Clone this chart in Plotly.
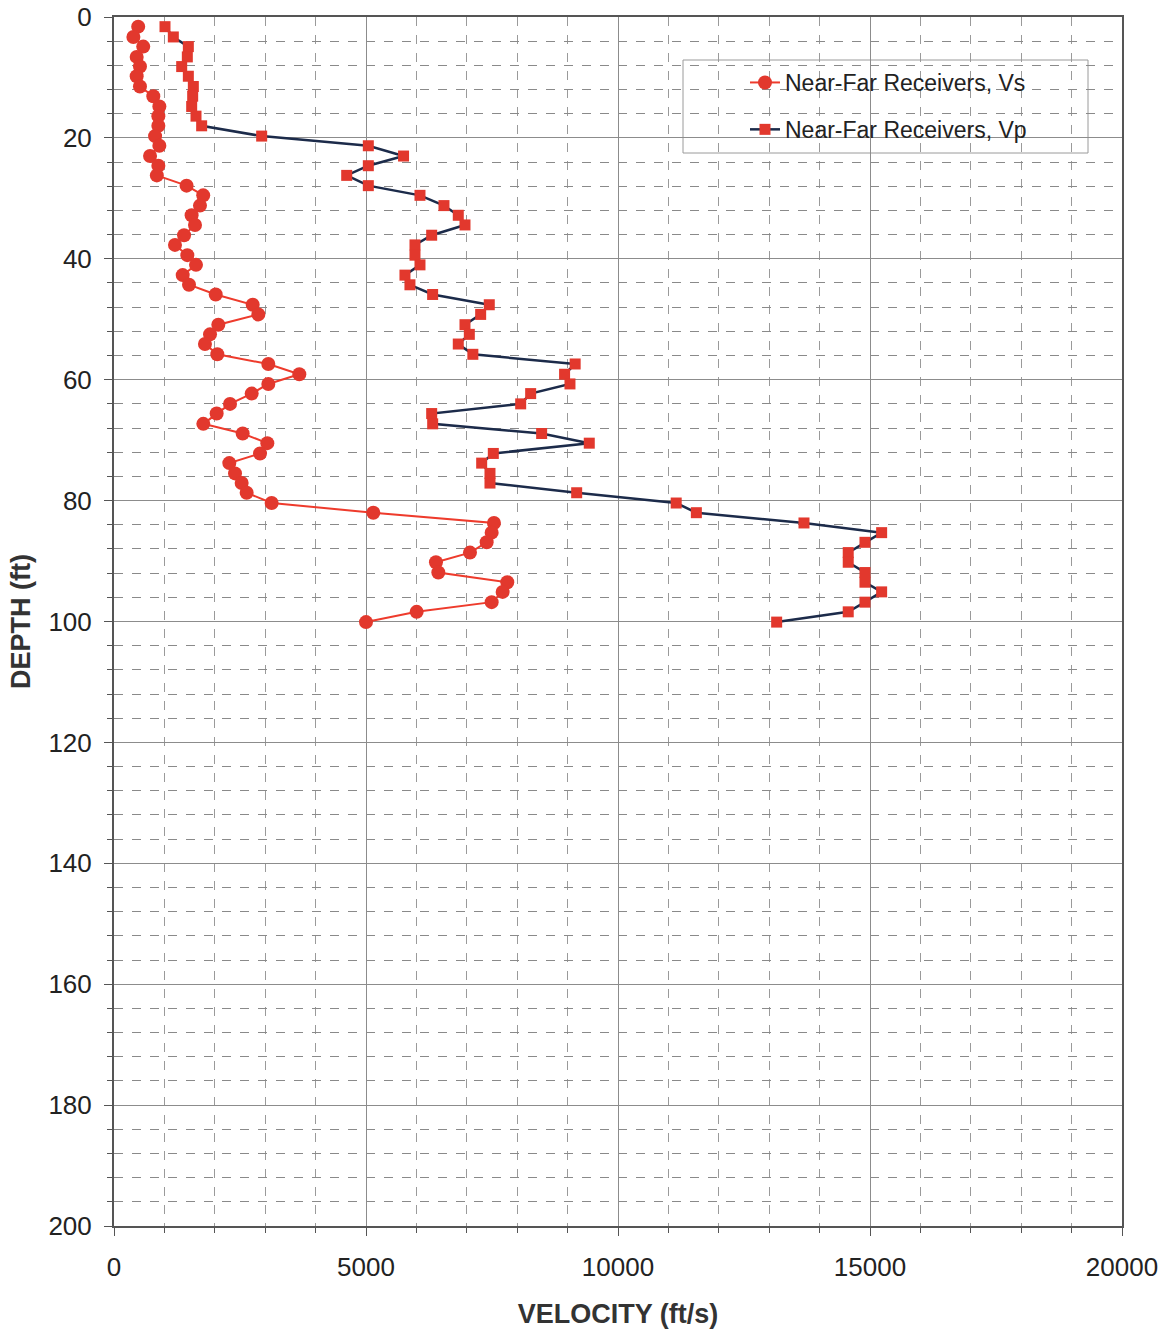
import plotly.graph_objects as go

depth_ft = [1.6, 3.3, 4.9, 6.6, 8.2, 9.8, 11.5, 13.1, 14.8, 16.4, 18.0, 19.7, 21.3, 23.0, 24.6,
            26.2, 27.9, 29.5, 31.2, 32.8, 34.4, 36.1, 37.7, 39.4, 41.0, 42.7, 44.3, 45.9, 47.6,
            49.2, 50.9, 52.5, 54.1, 55.8, 57.4, 59.1, 60.7, 62.3, 64.0, 65.6, 67.3, 68.9, 70.5,
            72.2, 73.8, 75.5, 77.1, 78.7, 80.4, 82.0, 83.7, 85.3, 86.9, 88.6, 90.2, 91.9, 93.5,
            95.1, 96.8, 98.4, 100.1]

vs_fts = [480, 385, 580, 450, 515, 450, 515, 780, 900, 880, 880, 815, 900, 715, 880,
          850, 1440, 1770, 1706, 1540, 1607, 1390, 1210, 1455, 1627, 1363, 1488, 2018, 2752,
          2864, 2070, 1905, 1805, 2050, 3062, 3677, 3062, 2732, 2302, 2037, 1772, 2553, 3042,
          2897, 2288, 2401, 2533, 2632, 3128, 5145, 7539, 7493, 7394, 7063, 6388, 6435, 7803,
          7711, 7493, 6005, 5000]

vp_fts = [1012, 1177, 1475, 1455, 1343, 1475, 1574, 1561, 1541, 1627, 1739, 2930, 5046, 5745, 5046,
          4617, 5046, 6071, 6547, 6831, 6964, 6303, 5972, 5972, 6071, 5773, 5872, 6322, 7446,
          7275, 6964, 7050, 6831, 7120, 9150, 8940, 9047, 8267, 8069, 6303, 6323, 8485, 9430,
          7526, 7295, 7460, 7460, 9180, 11155, 11555, 13690, 15231, 14900, 14568, 14568, 14900, 14900,
          15231, 14900, 14568, 13148]

x_ticks = [0, 5000, 10000, 15000, 20000]
y_ticks = [0, 20, 40, 60, 80, 100, 120, 140, 160, 180, 200]

series_names = ["Near-Far Receivers, Vs", "Near-Far Receivers, Vp"]

RED = "#e2382d"
NAVY = "#1c2b4a"

fig = go.Figure()
fig.add_trace(go.Scatter(
    x=vs_fts, y=depth_ft, mode="lines+markers", name=series_names[0],
    legendgroup="vs",
    line=dict(color="#ee3b2c", width=2),
    marker=dict(symbol="circle", size=14, color=RED, line=dict(width=0)),
))
fig.add_trace(go.Scatter(
    x=vp_fts, y=depth_ft, mode="lines+markers", name=series_names[1],
    legendgroup="vp",
    line=dict(color=NAVY, width=2.5),
    marker=dict(symbol="square", size=11, color=RED, line=dict(width=0)),
))

axis_font = dict(family="Liberation Sans, Arial, sans-serif", size=26, color="#222222")
title_font = dict(family="Liberation Sans, Arial, sans-serif", size=27, color="#333333")

fig.update_xaxes(
    range=[0, 20000], tickvals=x_ticks, ticktext=[str(v) for v in x_ticks],
    showgrid=True, gridcolor="#8c8c8c", gridwidth=1,
    minor=dict(dtick=1000, showgrid=True, gridcolor="#9a9a9a", griddash="dash", gridwidth=1,
               ticks="outside", ticklen=5, tickcolor="#555555"),
    ticks="outside", ticklen=8, tickcolor="#555555",
    showline=True, linecolor="#555555", linewidth=2, mirror=True,
    zeroline=False, tickfont=axis_font, ticklabelstandoff=9, automargin=False,
    ticklabeloverflow="allow",
    title=dict(text="<b>VELOCITY (ft/s)</b>", font=title_font, standoff=23),
)
fig.update_yaxes(
    range=[200, 0], tickvals=y_ticks, ticktext=[str(v) for v in y_ticks],
    showgrid=True, gridcolor="#8c8c8c", gridwidth=1,
    minor=dict(dtick=4, showgrid=True, gridcolor="#8a8a8a", griddash="dash", gridwidth=1,
               ticks="outside", ticklen=5, tickcolor="#555555"),
    ticks="outside", ticklen=8, tickcolor="#555555",
    showline=True, linecolor="#555555", linewidth=2, mirror=True,
    zeroline=False, tickfont=axis_font, ticklabelstandoff=7, automargin=False,
    ticklabeloverflow="allow",
    title=dict(text="<b>DEPTH (ft)</b>", font=title_font, standoff=10),
)

# legend frame
fig.add_shape(type="rect", xref="paper", yref="paper",
              x0=(683 - 114) / 1008, x1=(1088 - 114) / 1008,
              y0=1 - (153 - 17) / 1209, y1=1 - (60 - 17) / 1209,
              line=dict(color="#9a9a9a", width=1), fillcolor="white", layer="between")

fig.update_layout(
    width=1172, height=1334,
    margin=dict(l=114, r=50, t=17, b=108, autoexpand=False),
    paper_bgcolor="white", plot_bgcolor="white",
    showlegend=True,
    legend=dict(
        x=(745 - 114) / 1008, y=1 - (61 - 17) / 1209, xanchor="left", yanchor="top",
        bgcolor="rgba(0,0,0,0)", borderwidth=0,
        font=dict(family="Liberation Sans, Arial, sans-serif", size=23, color="#222222"),
        tracegroupgap=14, traceorder="grouped",
    ),
)

fig.write_html("out.html", config={"displayModeBar": False},
               post_script="document.body.style.margin='0';document.body.style.padding='0';")
